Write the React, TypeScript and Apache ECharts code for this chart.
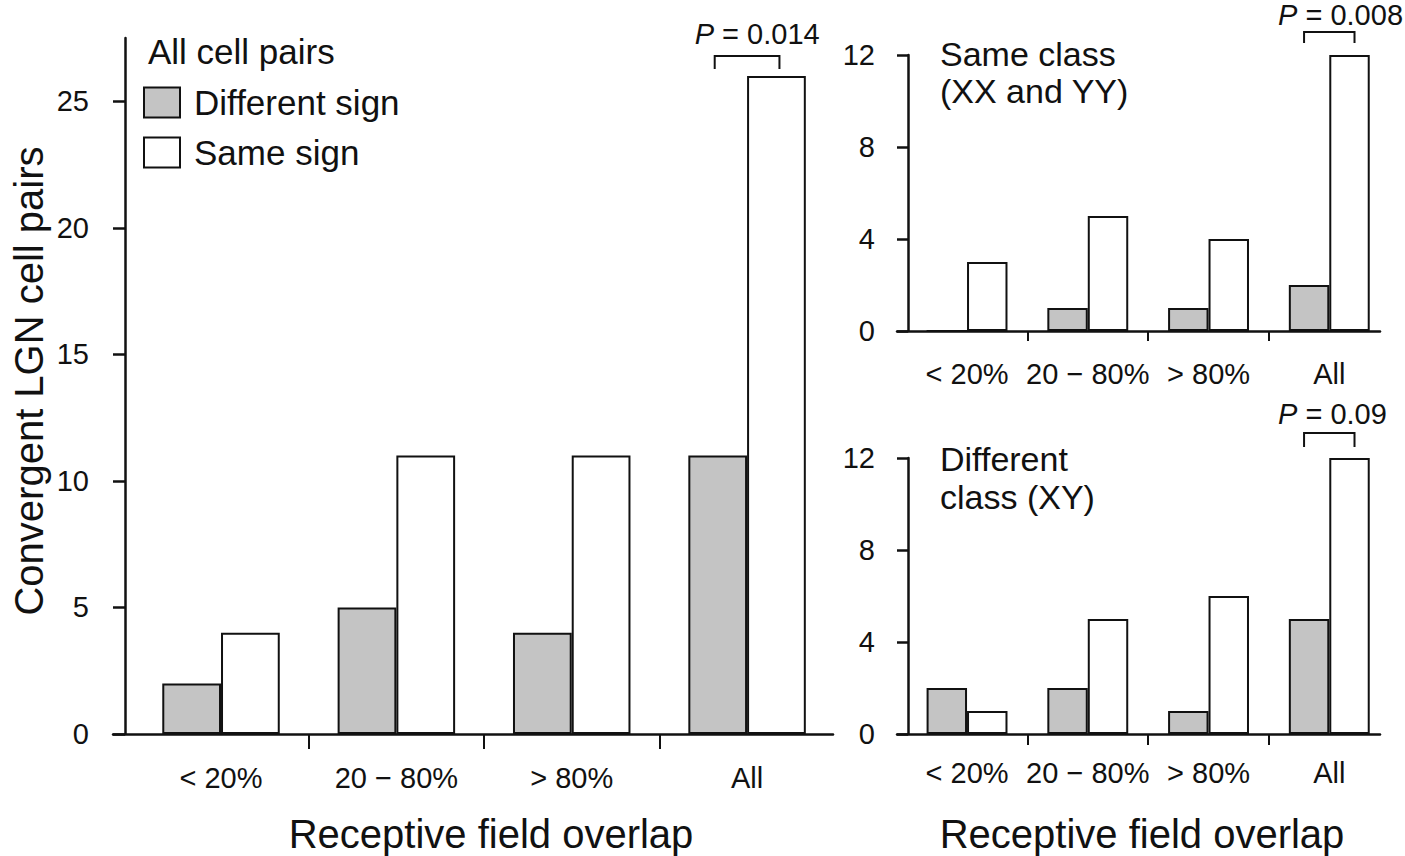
import React, { useEffect, useRef } from 'react';
import * as echarts from 'echarts';

const categories = ['< 20%', '20 \u2212 80%', '> 80%', 'All'];
const seriesNames = ['Different sign', 'Same sign'];

const allDifferent = [2, 5, 4, 11];
const allSame = [4, 11, 11, 26];
const sameClassDifferent = [0, 1, 1, 2];
const sameClassSame = [3, 5, 4, 12];
const diffClassDifferent = [2, 2, 1, 5];
const diffClassSame = [1, 5, 6, 12];

const pValues = ['0.014', '0.008', '0.09'];
const leftTicks = [0, 5, 10, 15, 20, 25];
const rightTicks = [0, 4, 8, 12];

const FONT = "'Liberation Sans', Arial, Helvetica, sans-serif";
const INK = '#111111';
const GRAY = '#c4c4c4';
const GAP = 0.33;

export default function App() {
  const ref = useRef<HTMLDivElement>(null);

  useEffect(() => {
    document.body.style.margin = '0';
    const chart = echarts.init(ref.current!, null, { renderer: 'svg' });

    const panels = [
      { diff: allDifferent, same: allSame, grid: { left: 113, right: 572, top: 38, bottom: 122 },
        xMin: -0.616, xMax: 3.49, yMax: 27.5, yTicks: leftTicks, yOffset: -12, yTickLen: 12, yMargin: 36,
        xTickLen: 15, xMargin: 29, p: pValues[0], ext: 3, rise: 20, leg: 13, tdx: -20, tdy: -42 },
      { diff: sameClassDifferent, same: sameClassSame, grid: { left: 897, right: 25, top: 55, bottom: 525 },
        xMin: -0.58, xMax: 3.42, yMax: 12, yTicks: rightTicks, yOffset: -11, yTickLen: 11, yMargin: 33,
        xTickLen: 10, xMargin: 28, p: pValues[1], ext: 5, rise: 23, leg: 11, tdx: -26, tdy: -40 },
      { diff: diffClassDifferent, same: diffClassSame, grid: { left: 897, right: 25, top: 458, bottom: 122 },
        xMin: -0.58, xMax: 3.42, yMax: 12, yTicks: rightTicks, yOffset: -11, yTickLen: 11, yMargin: 33,
        xTickLen: 11, xMargin: 24, p: pValues[2], ext: 5, rise: 25, leg: 14, tdx: -26, tdy: -44 },
    ];

    const axisLine = { show: true, onZero: false, lineStyle: { color: INK, width: 2.5 } };
    const labelStyle = { color: INK, fontSize: 29, fontFamily: FONT };

    const series: any[] = [];
    panels.forEach((pn, i) => {
      const mk = (vals: number[]) => vals.map((v, k) => [k, v]);
      series.push({
        type: 'bar', name: seriesNames[0], xAxisIndex: i, yAxisIndex: i,
        data: mk(pn.diff), barGap: '0%', barCategoryGap: GAP * 100 + '%',
        itemStyle: { color: GRAY, borderColor: INK, borderWidth: 2 },
      });
      series.push({
        type: 'bar', name: seriesNames[1], xAxisIndex: i, yAxisIndex: i,
        data: mk(pn.same), barGap: '0%', barCategoryGap: GAP * 100 + '%',
        itemStyle: { color: '#ffffff', borderColor: INK, borderWidth: 2 },
      });
      series.push({
        type: 'custom', name: 'pvalue' + i, xAxisIndex: i, yAxisIndex: i, clip: false, z: 5,
        data: [[3, pn.same[3]]],
        renderItem: (params: any, api: any) => {
          const c = api.coord([api.value(0), api.value(1)]);
          const band = api.size([1, 0])[0];
          const w = (band * (1 - GAP)) / 2;
          const x1 = c[0] - w / 2 - pn.ext;
          const x2 = c[0] + w / 2 + pn.ext;
          const top = c[1] - pn.rise;
          return {
            type: 'group',
            children: [
              { type: 'polyline', shape: { points: [[x1, top + pn.leg], [x1, top], [x2, top], [x2, top + pn.leg]] },
                style: { stroke: INK, lineWidth: 2, fill: 'none' } },
              { type: 'text', x: x1 + pn.tdx, y: c[1] + pn.tdy,
                style: { text: '{i|P} = ' + pn.p, rich: { i: { fontStyle: 'italic', fontSize: 29, fontFamily: FONT, fill: INK } },
                  fontSize: 29, fontFamily: FONT, fill: INK, align: 'left', verticalAlign: 'middle' } },
            ],
          };
        },
      });
    });

    const option: any = {
      animation: false,
      backgroundColor: '#ffffff',
      grid: panels.map((p) => ({ ...p.grid })),
      xAxis: panels.map((p, i) => ({
        type: 'value', gridIndex: i, min: p.xMin, max: p.xMax,
        splitLine: { show: false }, axisLine,
        axisTick: { show: true, customValues: [0.5, 1.5, 2.5], length: p.xTickLen, lineStyle: { color: INK, width: 2 } },
        axisLabel: { ...labelStyle, margin: p.xMargin, customValues: [0, 1, 2, 3],
          formatter: (v: number) => categories[Math.round(v)] },
      })),
      yAxis: panels.map((p, i) => ({
        type: 'value', gridIndex: i, min: 0, max: p.yMax, offset: p.yOffset,
        splitLine: { show: false }, axisLine,
        axisTick: { show: true, customValues: p.yTicks, length: p.yTickLen, lineStyle: { color: INK, width: 2.5 } },
        axisLabel: { ...labelStyle, margin: p.yMargin, customValues: p.yTicks },
      })),
      legend: {
        orient: 'vertical', left: 143, top: 85, padding: 0, itemWidth: 36, itemHeight: 30, itemGap: 15,
        data: seriesNames, icon: 'rect', selectedMode: false,
        formatter: (n: string) => '{g|}' + n,
        textStyle: { fontSize: 35, fontFamily: FONT, color: INK, rich: { g: { width: 9 } } },
      },
      graphic: [
        { type: 'text', x: 148, y: 51, style: { text: 'All cell pairs', fontSize: 35, fontFamily: FONT, fill: INK, verticalAlign: 'middle' } },
        { type: 'text', x: 940, y: 72, style: { text: 'Same class\n(XX and YY)', fontSize: 34, lineHeight: 37, fontFamily: FONT, fill: INK, verticalAlign: 'middle' } },
        { type: 'text', x: 940, y: 478, style: { text: 'Different\nclass (XY)', fontSize: 34, lineHeight: 38, fontFamily: FONT, fill: INK, verticalAlign: 'middle' } },
        { type: 'text', x: 491, y: 834, style: { text: 'Receptive field overlap', fontSize: 40, fontFamily: FONT, fill: INK, align: 'center', verticalAlign: 'middle' } },
        { type: 'text', x: 1142, y: 834, style: { text: 'Receptive field overlap', fontSize: 40, fontFamily: FONT, fill: INK, align: 'center', verticalAlign: 'middle' } },
        { type: 'text', x: 29, y: 381, rotation: Math.PI / 2, style: { text: 'Convergent LGN cell pairs', fontSize: 40, fontFamily: FONT, fill: INK, align: 'center', verticalAlign: 'middle' } },
      ],
      series,
    };

    chart.setOption(option);
    return () => chart.dispose();
  }, []);

  return <div ref={ref} style={{ position: 'absolute', left: 0, top: 0, width: 1405, height: 856 }} />;
}
